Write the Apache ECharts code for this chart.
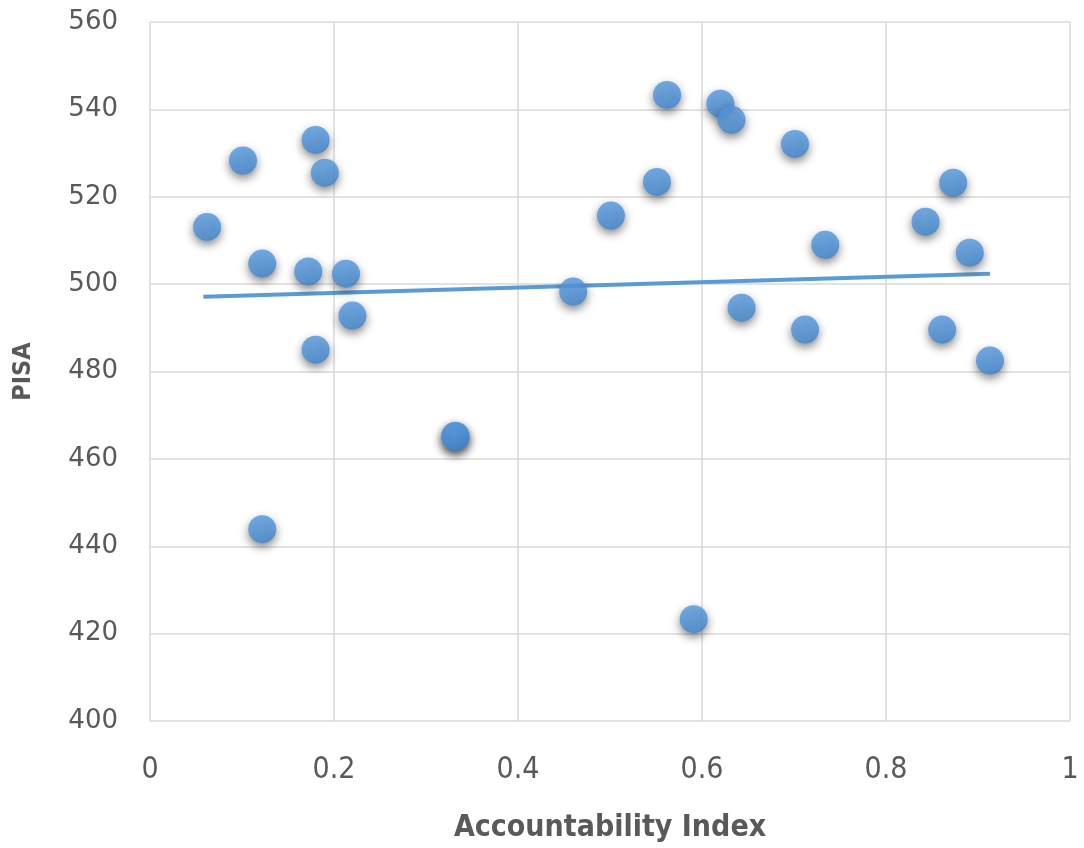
<!DOCTYPE html>
<html><head><meta charset="utf-8">
<script src="https://cdn.jsdelivr.net/npm/echarts@6/dist/echarts.min.js"></script>
<style>html,body{margin:0;padding:0;background:#fff}#c{width:1084px;height:848px}</style>
</head><body><div id="c"></div>
<script>
const accountability = [0.062,0.101,0.122,0.122,0.172,0.180,0.180,0.190,0.213,0.220,0.332,0.332,0.460,0.501,0.551,0.562,0.591,0.620,0.632,0.643,0.701,0.712,0.734,0.843,0.861,0.873,0.891,0.913];
const pisa =           [513.1,528.3,504.7,443.9,502.9,533.0,485.0,525.5,502.4,492.8,465.3,465.0,498.3,515.7,523.4,543.3,423.3,541.3,537.6,494.6,532.1,489.6,509.0,514.3,489.6,523.2,507.2,482.5];
const trendX = [0.058,0.913];
const trendY = [497.1,502.4];
const xTicks = [0,0.2,0.4,0.6,0.8,1];
const yTicks = [400,420,440,460,480,500,520,540,560];

const pts = accountability.map((x,i)=>[x,pisa[i]]);
const trend = trendX.map((x,i)=>[x,trendY[i]]);

const fontY='"DejaVu Sans","Open Sans",sans-serif';
const fontX='"DejaVu Sans Condensed","Open Sans",sans-serif';
const chart=echarts.init(document.getElementById('c'),null,{renderer:'canvas'});
chart.setOption({
  animation:false,
  grid:{left:150,right:14,top:22,bottom:126,containLabel:false},
  xAxis:{type:'value',min:0,max:1,interval:0.2,
    axisLine:{show:false},axisTick:{show:false},
    splitLine:{lineStyle:{color:'#d9d9d9',width:1.5}},
    axisLabel:{color:'#595959',fontSize:30,fontFamily:fontX,margin:34,formatter:v=>String(+v.toFixed(1))},
    name:'Accountability Index',nameLocation:'middle',nameGap:92,
    nameTextStyle:{color:'#595959',fontSize:30,fontWeight:'bold',fontFamily:fontX}},
  yAxis:{type:'value',min:400,max:560,interval:20,
    axisLine:{show:false},axisTick:{show:false},
    splitLine:{lineStyle:{color:'#d9d9d9',width:1.5}},
    axisLabel:{color:'#595959',fontSize:26,fontFamily:fontY,margin:32},
    name:'PISA',nameLocation:'middle',nameGap:114,
    nameTextStyle:{color:'#595959',fontSize:25,fontWeight:'bold',fontFamily:fontX}},
  series:[
    {type:'line',data:trend,symbol:'none',lineStyle:{color:'#5b9bd5',width:4},z:1},
    {type:'scatter',data:pts,symbolSize:28,z:2,
      itemStyle:{color:new echarts.graphic.RadialGradient(0.45,0.4,0.6,[{offset:0,color:'#5fa2e6'},{offset:0.8,color:'#4b92dc'},{offset:1,color:'#3f83ca'}]),
        shadowColor:'rgba(0,0,0,0.6)',shadowBlur:10,shadowOffsetY:4}}
  ]
});
</script></body></html>
